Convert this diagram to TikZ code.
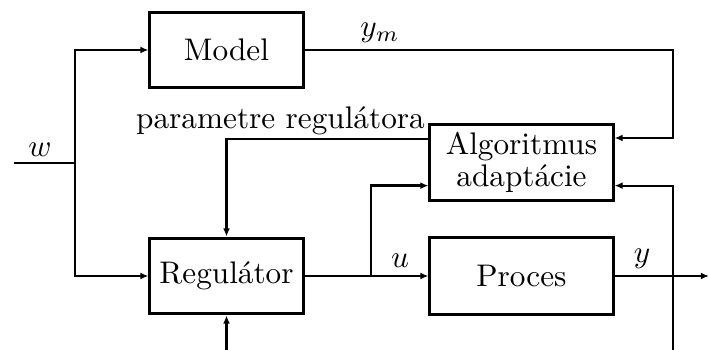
\documentclass[tikz,border=0pt]{standalone}
\usetikzlibrary{arrows.meta,calc}
\begin{document}
\begin{tikzpicture}[x=0.32pt,y=-0.32pt,
  blok/.style={draw,line width=0.95pt,inner sep=0pt,align=center},
  smblok/.style={blok,minimum width=49pt,minimum height=24.3pt},
  wdblok/.style={blok,minimum width=58.6pt,minimum height=24.6pt},
  spoj/.style={line width=0.65pt},
  sip/.style={spoj,-{Latex[length=2.6pt,width=2.2pt]}},
  lbl/.style={inner sep=0pt}]
\useasboundingbox (0,0) rectangle (709,350);

% blocks
\node[smblok] (model) at (226.5,50) {Model};
\node[smblok] (reg) at (226.5,276) {Regulátor};
\node[wdblok] (alg) at (521.5,162.5) {Algoritmus\\[-1.6pt]adaptácie};
\node[wdblok] (proc) at (521.5,276) {Proces};

% helper points
\coordinate (win) at (14,163);
\coordinate (jw) at (75,163);
\coordinate (ymc) at (673,138);
\coordinate (ju) at (371,276);
\coordinate (jy) at (673,276);
\coordinate (ybot) at (673,350);
\coordinate (yout) at (709,276);
\coordinate (rbot) at (226.5,350);
\coordinate (aw1) at ($(alg.north west)!0.2!(alg.south west)$);
\coordinate (aw2) at ($(alg.north west)!0.79!(alg.south west)$);
\coordinate (ae2) at ($(alg.north east)!0.79!(alg.south east)$);

% reference input w
\draw[spoj] (win) -- (jw);
\draw[sip] (jw) |- (model.west);
\draw[sip] (jw) |- (reg.west);

% model output y_m into adaptation
\draw[sip] (model.east) -| (ymc) -- (ymc -| alg.east);

% controller parameters
\draw[sip] (aw1) -| (reg.north);

% control signal u
\draw[sip] (reg.east) -- (proc.west);
\draw[sip,line width=0.9pt] (ju) |- (aw2);

% process output y
\draw[sip] (proc.east) -- (yout);
\draw[sip] (ybot) |- (ae2);

% disturbance into controller
\draw[sip] (rbot) -- (reg.south);

% labels
\node[lbl] (lw) at (40,150) {$w$};
\node[lbl] (lym) at (380,33) {$y_m$};
\node[lbl] (lu) at (400,261) {$u$};
\node[lbl] (ly) at (642,259) {$y$};
\node[lbl,anchor=base] (lpar) at (280.5,129) {parametre regulátora};
\end{tikzpicture}
\end{document}
